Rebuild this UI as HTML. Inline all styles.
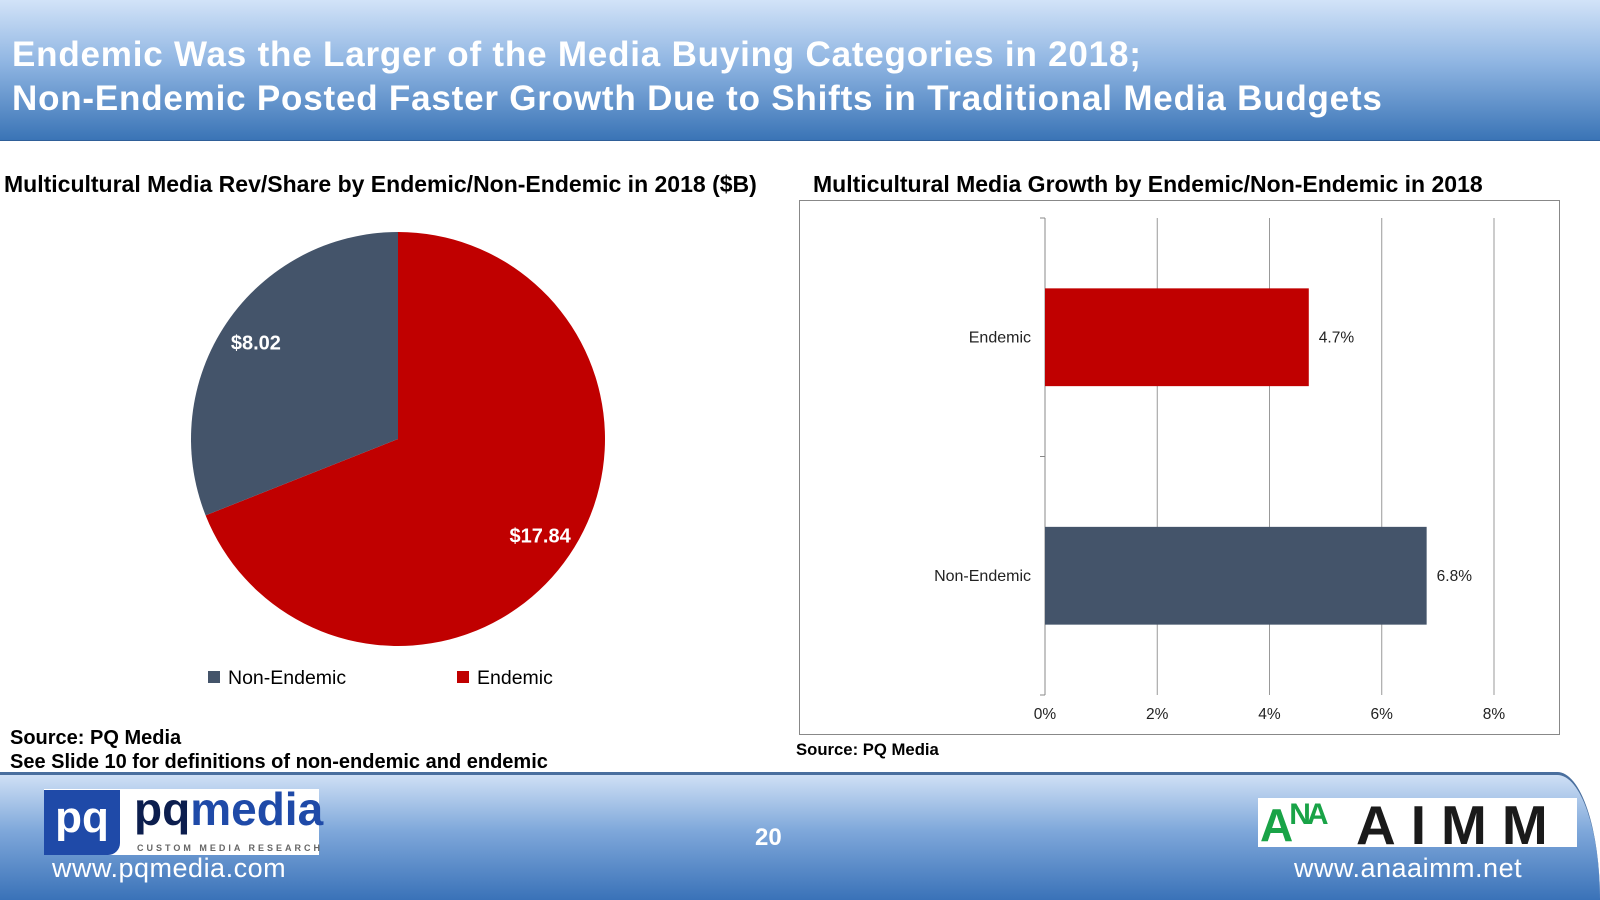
<!DOCTYPE html>
<html><head><meta charset="utf-8"><style>
body{margin:0;width:1600px;height:900px;overflow:hidden;background:#fff;font-family:"Liberation Sans",Arial,sans-serif;position:relative}
.abs{position:absolute}
#header{left:0;top:0;width:1600px;height:140px;background:linear-gradient(#d2e3f8,#8fb5e2 45%,#3a74b6);border-bottom:1px solid #2f5f98}
#title{left:12px;top:33px;color:#fff;font-weight:bold;font-size:35px;line-height:44px;letter-spacing:0.8px;white-space:nowrap}
#footer{left:0;top:772px;width:1600px;height:128px;background:linear-gradient(#cfe0f5,#7ea7da 45%,#3a72b8);border-top:3px solid #4a6f9e;border-top-right-radius:50px 150px;box-sizing:border-box}
.bt{font-weight:bold;color:#000;white-space:nowrap}
</style></head><body>
<div id="header" class="abs"></div>
<div id="title" class="abs">Endemic Was the Larger of the Media Buying Categories in 2018;<br>Non-Endemic Posted Faster Growth Due to Shifts in Traditional Media Budgets</div>

<div class="abs bt" style="left:4px;top:171px;font-size:23px">Multicultural Media Rev/Share by Endemic/Non-Endemic in 2018 ($B)</div>
<div class="abs bt" style="left:813px;top:171px;font-size:23px">Multicultural Media Growth by Endemic/Non-Endemic in 2018</div>

<svg class="abs" style="left:0;top:0" width="1600" height="900" id="charts">
<g id="pie"></g>
<g id="bar"></g>
</svg>

<div class="abs bt" style="left:10px;top:726px;font-size:20px;line-height:24px">Source: PQ Media<br>See Slide 10 for definitions of non-endemic and endemic</div>
<div class="abs bt" style="left:796px;top:740px;font-size:16.7px">Source: PQ Media</div>

<div id="footer" class="abs"></div>
<div class="abs" style="left:44px;top:789px;width:275px;height:66px;background:#fff">
  <div class="abs" style="left:0;top:1px;width:76px;height:65px;background:#1f4aa8;border-bottom-right-radius:12px;color:#fff;font-weight:bold;font-size:44px;line-height:56px;text-align:center">pq</div>
  <div class="abs" style="left:90px;top:-7px;font-weight:bold;font-size:46px;color:#1f4aa8;white-space:nowrap"><span style="color:#0c1e4e">pq</span>media</div>
  <div class="abs" style="left:93px;top:54px;font-size:9px;font-weight:bold;letter-spacing:3px;color:#666;white-space:nowrap">CUSTOM MEDIA RESEARCH</div>
</div>
<div class="abs" style="left:52px;top:853px;color:#fff;font-size:27px;letter-spacing:0.5px">www.pqmedia.com</div>
<div class="abs" style="left:755px;top:824px;color:#fff;font-weight:bold;font-size:24px">20</div>
<div class="abs" style="left:1258px;top:798px;width:319px;height:49px;background:#fff;overflow:hidden">
  <div class="abs" style="left:2px;top:0px;font-weight:bold;font-size:46px;color:#19a347;letter-spacing:-4px;white-space:nowrap">A<span style="font-size:30px;vertical-align:top">NA</span></div>
  <div class="abs" style="left:98px;top:-5px;font-size:55px;font-weight:bold;color:#1a1a1a;letter-spacing:15px;white-space:nowrap">AIMM</div>
</div>
<div class="abs" style="left:1294px;top:853px;color:#fff;font-size:27px;letter-spacing:0.5px">www.anaaimm.net</div>

<script>
const pieCategories=["Endemic","Non-Endemic"];
const pieValues=[17.84,8.02];
const pieLabels=["$17.84","$8.02"];
const pieColors=["#c00000","#44546a"];
const barCategories=["Endemic","Non-Endemic"];
const barValues=[4.7,6.8];
const barLabels=["4.7%","6.8%"];
const xTicks=[0,2,4,6,8];
const NS="http://www.w3.org/2000/svg";
function mk(tag,attrs,parent){const e=document.createElementNS(NS,tag);for(const k in attrs)e.setAttribute(k,attrs[k]);parent.appendChild(e);return e;}
// Pie
const pie=document.getElementById('pie');
const cx=398,cy=439,r=207;
const total=pieValues.reduce((a,b)=>a+b,0);
let ang=0;
pieValues.forEach((v,i)=>{
  const a0=ang,a1=ang+v/total*2*Math.PI;ang=a1;
  const x0=cx+r*Math.sin(a0),y0=cy-r*Math.cos(a0),x1=cx+r*Math.sin(a1),y1=cy-r*Math.cos(a1);
  const large=(a1-a0)>Math.PI?1:0;
  const p=mk('path',{d:`M${cx},${cy}L${x0},${y0}A${r},${r} 0 ${large} 1 ${x1},${y1}Z`,fill:pieColors[i]},pie);
  
  
  const mid=(a0+a1)/2, lr=r*0.83;
  const t=mk('text',{x:cx+lr*Math.sin(mid),y:cy-lr*Math.cos(mid)+7,'text-anchor':'middle',fill:'#fff','font-size':20,'font-weight':'bold'},pie);
  t.textContent=pieLabels[i];
  
  
});
// legend
const legendOrder=[1,0],legX=[208,457];
legendOrder.forEach((idx,j)=>{
  const s=mk('rect',{x:legX[j],y:671,width:12,height:12,fill:pieColors[idx]},pie);
  
  
  const t=mk('text',{x:legX[j]+20,y:684,'font-size':19.5,fill:'#000'},pie);
  t.textContent=pieCategories[idx];
  
  
});
// Bar
const bar=document.getElementById('bar');
const box=mk('rect',{x:799.5,y:200.5,width:760,height:534,fill:'#fff',stroke:'#888'},bar);


const px0=1045,px1=1494,pyTop=218,pyBot=695;
const xs=v=>px0+(v-xTicks[0])/(xTicks[xTicks.length-1]-xTicks[0])*(px1-px0);
const band=(pyBot-pyTop)/barCategories.length;
xTicks.forEach(t=>{
  const x=xs(t);
  const l=mk('line',{x1:x,x2:x,y1:pyTop,y2:pyBot,stroke:t===0?'#888':'#999','stroke-width':1},bar);
  
  
  const tx=mk('text',{x:x,y:719,'text-anchor':'middle','font-size':15.5,fill:'#222'},bar);
  tx.textContent=t+'%';
  
  
});
for(let i=0;i<=barCategories.length;i++){
  const y=pyTop+i*band;
  const l=mk('line',{x1:px0-5,x2:px0,y1:y,y2:y,stroke:'#888'},bar);
  
  
}
barCategories.forEach((c,i)=>{
  const yc=pyTop+band*(i+0.5),h=band*0.41;
  const rc=mk('rect',{x:px0,y:yc-h/2,width:xs(barValues[i])-px0,height:h,fill:pieColors[i]},bar);
  
  
  const lab=mk('text',{x:px0-14,y:yc+5,'text-anchor':'end','font-size':16,fill:'#222'},bar);
  lab.textContent=c;
  
  
  const v=mk('text',{x:xs(barValues[i])+10,y:yc+5,'font-size':15.5,fill:'#222'},bar);
  v.textContent=barLabels[i];
  
  
});
</script>
</body></html>
